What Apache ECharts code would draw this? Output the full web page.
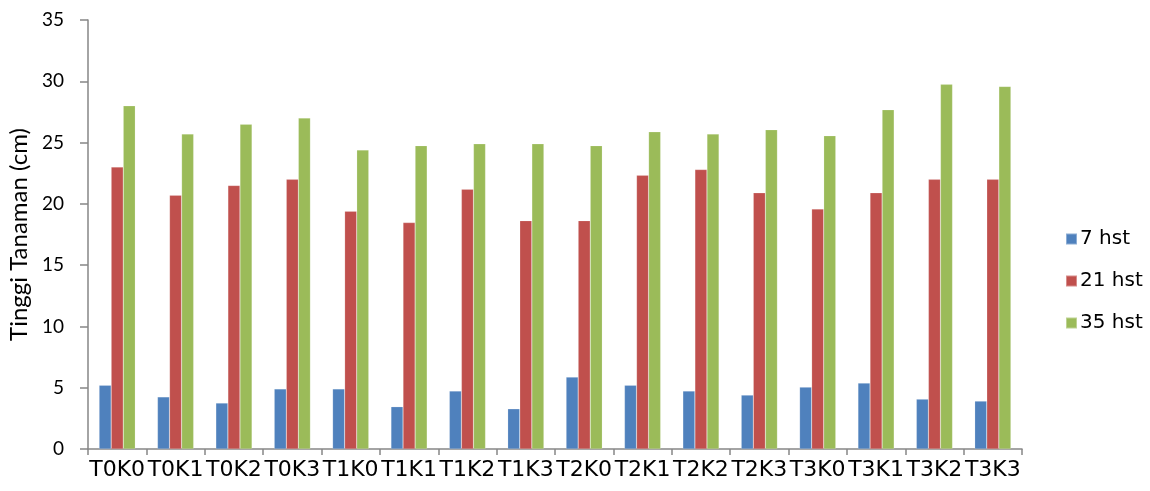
<!DOCTYPE html>
<html>
<head>
<meta charset="utf-8">
<style>
  html, body { margin: 0; padding: 0; background: #ffffff; }
  #chart { width: 1150px; height: 491px; }
</style>
<script src="https://cdn.jsdelivr.net/npm/echarts@6/dist/echarts.min.js"></script>
</head>
<body>
<div id="chart"></div>
<script>
// Treatment combinations on the x axis
const categories = ['T0K0', 'T0K1', 'T0K2', 'T0K3', 'T1K0', 'T1K1', 'T1K2', 'T1K3',
                    'T2K0', 'T2K1', 'T2K2', 'T2K3', 'T3K0', 'T3K1', 'T3K2', 'T3K3'];

// Plant height (cm) by days after planting
const hst7  = [5.2, 4.25, 3.75, 4.9, 4.9, 3.45, 4.73, 3.28, 5.87, 5.2, 4.73, 4.4, 5.05, 5.38, 4.07, 3.91];
const hst21 = [23.0, 20.7, 21.5, 22.0, 19.4, 18.47, 21.2, 18.63, 18.63, 22.33, 22.8, 20.9, 19.58, 20.9, 22.0, 22.0];
const hst35 = [28.0, 25.7, 26.5, 27.0, 24.4, 24.75, 24.9, 24.9, 24.75, 25.88, 25.7, 26.05, 25.56, 27.68, 29.75, 29.58];

const seriesNames = ['7 hst', '21 hst', '35 hst'];
const seriesColors = ['#4F81BD', '#C0504D', '#9BBB59'];
const seriesData = [hst7, hst21, hst35];

const chart = echarts.init(document.getElementById('chart'));

chart.setOption({
  animation: false,
  backgroundColor: '#ffffff',
  grid: { left: 88, right: 128, top: 20, bottom: 42, containLabel: false, outerBoundsMode: 'none' },
  legend: {
    orient: 'vertical',
    left: 1060,
    top: 223,
    itemWidth: 11,
    itemHeight: 11,
    itemGap: 20,
    icon: 'rect',
    textStyle: { fontFamily: 'DejaVu Sans', fontSize: 20, color: '#000000', lineHeight: 22, padding: [0, 0, 0, -2] },
    data: seriesNames
  },
  xAxis: {
    type: 'category',
    data: categories,
    axisLine: { lineStyle: { color: '#868686', width: 1.5 } },
    axisTick: { show: true, length: 6, alignWithLabel: false, lineStyle: { color: '#868686', width: 1.5 } },
    axisLabel: { interval: 0, margin: 10, fontFamily: 'DejaVu Sans', fontSize: 22, color: '#000000' },
    splitLine: { show: false }
  },
  yAxis: {
    type: 'value',
    min: 0,
    max: 35,
    interval: 5,
    name: 'Tinggi Tanaman (cm)',
    nameLocation: 'middle',
    nameGap: 57,
    nameTextStyle: { fontFamily: 'Lato', fontSize: 24, color: '#000000' },
    axisLine: { show: true, lineStyle: { color: '#868686', width: 1.5 } },
    axisTick: { show: true, length: 8, lineStyle: { color: '#868686', width: 1.5 } },
    axisLabel: { margin: 24, fontFamily: 'Lato', fontSize: 19, color: '#000000' },
    splitLine: { show: false }
  },
  series: seriesNames.map((name, i) => ({
    name: name,
    type: 'bar',
    data: seriesData[i],
    barGap: '0%',
    barCategoryGap: '38%',
    itemStyle: { color: seriesColors[i], borderColor: 'rgba(255,255,255,0.35)', borderWidth: 0.5 }
  }))
});
</script>
</body>
</html>
